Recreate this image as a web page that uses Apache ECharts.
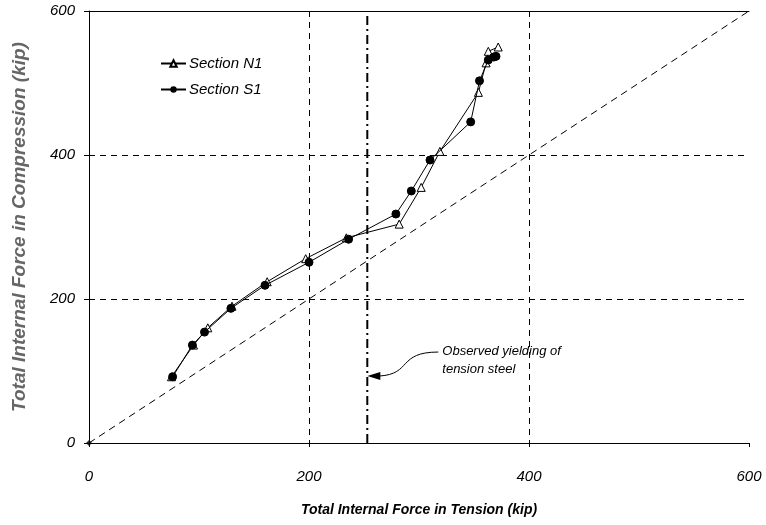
<!DOCTYPE html>
<html>
<head>
<meta charset="utf-8">
<script src="https://cdn.jsdelivr.net/npm/echarts@6/dist/echarts.min.js"></script>
<style>
  html, body { margin: 0; padding: 0; background: #fff; }
  #main { width: 766px; height: 525px; }
</style>
</head>
<body>
<div id="main"></div>
<script>
// 读图估计的数据 (kip)
var axisTicks = [0, 200, 400, 600];
var n1Tension = [75, 95, 108, 130, 162, 197, 234, 282, 302, 319, 354, 361, 363, 372];
var n1Compression = [92, 136, 160, 190, 224, 256, 285, 304, 355, 405, 487, 528, 544, 550];
var s1Tension = [76, 94, 105, 129, 160, 200, 236, 279, 293, 310, 347, 355, 363, 368, 370];
var s1Compression = [92, 136, 154, 187, 219, 251, 283, 318, 350, 393, 446, 503, 532, 536, 537];
var yieldTension = 253;
var yieldArrowY = 93;

var font = 'Liberation Sans';

function pairs(xs, ys) {
    var out = [];
    for (var i = 0; i < xs.length; i++) out.push([xs[i], ys[i]]);
    return out;
}

var myChart = echarts.init(document.getElementById('main'));

var option = {
    animation: false,
    backgroundColor: '#fff',
    grid: {left: 89, right: 17, top: 11, bottom: 82},
    legend: {
        orient: 'vertical',
        left: 155, top: 51,
        itemWidth: 25, itemHeight: 8, itemGap: 11,
        data: ['Section N1', 'Section S1'],
        textStyle: {fontFamily: font, fontStyle: 'italic', fontSize: 15, color: '#000', padding: [0, 0, 0, -2]}
    },
    xAxis: [{
        type: 'value', min: 0, max: 600, interval: 200,
        name: 'Total Internal Force in Tension (kip)',
        nameLocation: 'middle', nameGap: 60,
        nameTextStyle: {fontFamily: font, fontStyle: 'italic', fontWeight: 'bold', fontSize: 14, color: '#000'},
        axisLine: {lineStyle: {color: '#000', width: 1}},
        axisTick: {show: true, length: 4, lineStyle: {color: '#000'}},
        axisLabel: {fontFamily: font, fontStyle: 'italic', fontSize: 15, color: '#000', margin: 26},
        splitLine: {show: true, showMinLine: false, showMaxLine: false, lineStyle: {color: '#000', type: [6, 5], width: 1}}
    }, {
        //上边框
        type: 'value', min: 0, max: 600, position: 'top',
        axisLine: {show: true, lineStyle: {color: '#000', width: 1}},
        axisTick: {show: false}, axisLabel: {show: false}, splitLine: {show: false}
    }],
    yAxis: {
        type: 'value', min: 0, max: 600, interval: 200,
        name: 'Total Internal Force in Compression (kip)',
        nameLocation: 'middle', nameGap: 60,
        nameTextStyle: {fontFamily: font, fontStyle: 'italic', fontWeight: 'bold', fontSize: 19, color: '#666'},
        axisLine: {show: true, lineStyle: {color: '#000', width: 1}},
        axisTick: {show: true, length: 5, lineStyle: {color: '#000'}},
        axisLabel: {fontFamily: font, fontStyle: 'italic', fontSize: 15, color: '#000', margin: 14},
        splitLine: {show: true, showMinLine: false, showMaxLine: false, lineStyle: {color: '#000', type: [6, 5], width: 1}}
    },
    series: [
        {
            name: 'diag', type: 'line',
            data: [[axisTicks[0], axisTicks[0]], [axisTicks[3], axisTicks[3]]],
            symbol: 'none', silent: true,
            lineStyle: {color: '#000', width: 1, type: [7, 5]},
            z: 1
        },
        {
            name: 'origin', type: 'scatter',
            data: [[0, 0]], symbol: 'diamond', symbolSize: 6,
            itemStyle: {color: '#000'}, silent: true
        },
        {
            name: 'yield', type: 'line',
            data: [[yieldTension, axisTicks[0]], [yieldTension, axisTicks[3]]],
            symbol: 'none', silent: true,
            lineStyle: {color: '#000', width: 2, type: [9, 4, 2, 4]},
            z: 1
        },
        {
            name: 'Section N1', type: 'line',
            data: pairs(n1Tension, n1Compression),
            symbol: 'triangle', symbolSize: 8,
            lineStyle: {color: '#000', width: 1},
            itemStyle: {color: '#fff', borderColor: '#000', borderWidth: 1},
            z: 3
        },
        {
            name: 'Section S1', type: 'line',
            data: pairs(s1Tension, s1Compression),
            symbol: 'circle', symbolSize: 8,
            lineStyle: {color: '#000', width: 1},
            itemStyle: {color: '#000', borderColor: '#000'},
            z: 4
        }
    ]
};
myChart.setOption(option);

// 注释文字和箭头, 位置由坐标换算
var tip = myChart.convertToPixel({gridIndex: 0}, [yieldTension, yieldArrowY]);
var tx = tip[0] + 75, ty = tip[1] - 25;
myChart.setOption({
    graphic: [
        {
            type: 'text', left: tx, top: ty - 9,
            style: {
                text: 'Observed yielding of\ntension steel',
                font: 'italic 13px "Liberation Sans"', fill: '#000', lineHeight: 18
            }
        },
        {
            type: 'bezierCurve',
            shape: {x1: tx - 4, y1: ty + 1, cpx1: tx - 45, cpy1: ty + 1, cpx2: tx - 30, cpy2: tip[1] - 2, x2: tip[0] + 12, y2: tip[1]},
            style: {stroke: '#000', lineWidth: 1, fill: null}
        },
        {
            type: 'polygon',
            shape: {points: [[tip[0], tip[1]], [tip[0] + 13, tip[1] - 4], [tip[0] + 13, tip[1] + 4]]},
            style: {fill: '#000'}
        }
    ]
});
</script>
</body>
</html>
